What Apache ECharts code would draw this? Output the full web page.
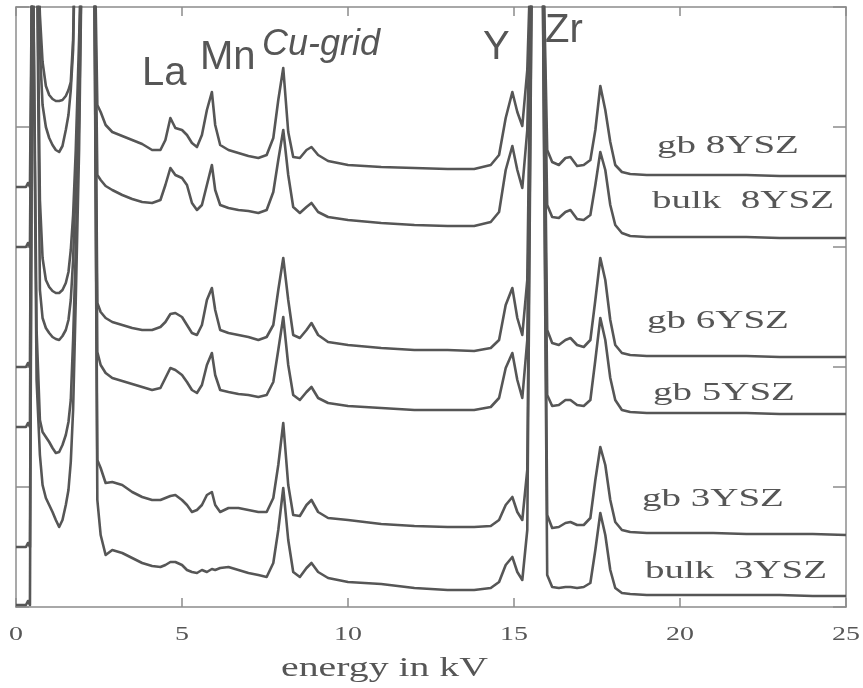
<!DOCTYPE html>
<html>
<head>
<meta charset="utf-8">
<script src="https://cdn.jsdelivr.net/npm/echarts@6/dist/echarts.min.js"></script>
<style>
  html, body { margin: 0; padding: 0; background: #ffffff; }
  #chart { width: 863px; height: 688px; }
</style>
</head>
<body>
<div id="chart"></div>
<script>
// EDX spectra, stacked with vertical offsets (arbitrary counts), energy in kV
const energy = [0, 0.3, 0.36, 0.42, 0.5, 0.62, 0.72, 0.8, 0.9, 1.0, 1.1, 1.2, 1.3, 1.4, 1.5, 1.58, 1.65, 1.72, 1.8, 1.9,
  2.0, 2.25, 2.35, 2.45, 2.55, 2.7, 2.9, 3.2, 3.5, 3.8, 4.1, 4.35, 4.5, 4.65, 4.8, 5.0, 5.15, 5.3, 5.45, 5.6,
  5.75, 5.9, 6.0, 6.15, 6.4, 6.7, 7.0, 7.3, 7.55, 7.75, 7.9, 8.05, 8.2, 8.35, 8.55, 8.75, 8.9, 9.1, 9.4, 10,
  11, 12, 13, 13.8, 14.3, 14.55, 14.75, 14.95, 15.1, 15.25, 15.4, 15.55, 15.85, 16.0, 16.15, 16.35, 16.55, 16.7, 16.9, 17.1,
  17.3, 17.45, 17.6, 17.75, 17.9, 18.05, 18.25, 18.5, 19, 20, 21, 22, 23, 24, 25];

const gb8YSZ = [420, 420, 424, 420, 700, 700, 592, 545, 521, 512, 508, 506, 506, 507, 511, 517, 525, 567, 700, 700,
  700, 700, 700, 502, 495, 482, 475, 471, 467, 463, 457, 457, 467, 489, 479, 477, 472, 464, 460, 472,
  497, 515, 482, 462, 457, 454, 451, 449, 452, 469, 507, 539, 475, 450, 449, 457, 460, 452, 446, 442,
  440, 439, 438, 438, 442, 452, 489, 515, 495, 481, 537, 700, 700, 457, 445, 442, 449, 450, 441, 442,
  447, 477, 521, 497, 465, 442, 435, 433, 432, 432, 432, 432, 431, 431, 431];

const bulk8YSZ = [360, 360, 364, 360, 700, 700, 557, 502, 480, 469, 462, 457, 455, 461, 477, 492, 517, 557, 700, 700,
  700, 700, 700, 432, 427, 421, 417, 412, 408, 405, 404, 407, 422, 439, 432, 429, 422, 404, 397, 402,
  422, 442, 417, 402, 399, 397, 396, 394, 397, 415, 447, 477, 432, 400, 394, 400, 404, 395, 390, 387,
  384, 382, 381, 381, 385, 395, 437, 461, 437, 419, 477, 700, 700, 402, 390, 389, 395, 397, 388, 387,
  392, 422, 455, 437, 402, 382, 374, 371, 370, 370, 370, 370, 369, 369, 369];

const gb6YSZ = [240, 240, 244, 240, 700, 700, 407, 349, 327, 320, 316, 314, 314, 317, 324, 335, 357, 392, 457, 567,
  700, 700, 700, 304, 295, 289, 285, 282, 279, 277, 277, 280, 285, 293, 294, 290, 282, 274, 272, 282,
  307, 319, 297, 277, 274, 272, 270, 267, 270, 282, 317, 349, 307, 272, 269, 277, 284, 272, 265, 262,
  259, 257, 257, 256, 259, 267, 302, 319, 289, 272, 327, 700, 700, 277, 264, 262, 267, 269, 262, 260,
  267, 307, 349, 327, 287, 262, 254, 252, 251, 251, 251, 251, 250, 250, 250];

const gb5YSZ = [180, 180, 184, 180, 700, 700, 317, 289, 279, 274, 270, 268, 267, 271, 277, 287, 307, 347, 427, 537,
  700, 700, 700, 255, 242, 234, 229, 226, 223, 220, 217, 219, 229, 239, 237, 232, 225, 217, 214, 222,
  242, 254, 232, 217, 215, 213, 212, 210, 212, 225, 257, 290, 242, 212, 207, 215, 220, 209, 204, 201,
  199, 197, 197, 197, 200, 209, 239, 254, 227, 209, 267, 700, 700, 212, 201, 202, 207, 207, 202, 201,
  207, 247, 289, 267, 229, 207, 197, 195, 194, 194, 194, 194, 193, 193, 193];

const gb3YSZ = [60, 60, 64, 60, 700, 277, 187, 175, 170, 165, 159, 154, 155, 162, 172, 185, 207, 267, 357, 487,
  700, 700, 700, 147, 139, 124, 125, 122, 115, 110, 107, 107, 109, 111, 112, 107, 102, 95, 97, 102,
  112, 115, 102, 95, 99, 99, 97, 95, 95, 109, 142, 184, 122, 92, 91, 102, 107, 95, 89, 87,
  83, 81, 80, 80, 81, 87, 102, 110, 95, 87, 137, 700, 700, 92, 79, 80, 84, 85, 82, 82,
  89, 127, 160, 142, 107, 85, 77, 75, 74, 74, 74, 73, 73, 73, 72];

const bulk3YSZ = [2, 2, 6, 2, 700, 227, 152, 122, 109, 102, 95, 87, 80, 87, 102, 117, 145, 197, 307, 457,
  700, 700, 700, 107, 72, 52, 57, 54, 49, 44, 41, 40, 42, 45, 45, 42, 37, 35, 34, 37,
  35, 38, 37, 39, 40, 37, 34, 32, 30, 44, 77, 119, 67, 35, 30, 39, 44, 35, 29, 25,
  23, 19, 17, 17, 19, 25, 42, 50, 35, 27, 77, 700, 700, 32, 20, 19, 20, 20, 19, 20,
  24, 57, 94, 72, 37, 19, 14, 13, 12, 12, 12, 12, 12, 11, 11];

const sampleNames = ['gb 8YSZ', 'bulk  8YSZ', 'gb 6YSZ', 'gb 5YSZ', 'gb 3YSZ', 'bulk  3YSZ'];
const spectra = [gb8YSZ, bulk8YSZ, gb6YSZ, gb5YSZ, gb3YSZ, bulk3YSZ];
const xTickValues = [0, 5, 10, 15, 20, 25];
const xTickLabels = ['0', '5', '10', '15', '20', '25'];
const xAxisTitle = 'energy in kV';
const peakNames = ['La', 'Mn', 'Cu-grid', 'Y', 'Zr'];

const INK = '#565656';
const FRAME = '#8c8c8c';

const chart = echarts.init(document.getElementById('chart'), null, { renderer: 'canvas' });

function frameAxis(pos, isX) {
  return {
    type: 'value',
    position: pos,
    min: isX ? 0 : 0,
    max: isX ? 25 : 600,
    interval: isX ? 5 : 120,
    axisLine: { show: true, onZero: false, lineStyle: { color: FRAME, width: 1.5 } },
    axisTick: { show: true, inside: true, length: isX ? 9 : 13, lineStyle: { color: FRAME, width: 1.5 } },
    axisLabel: { show: false },
    splitLine: { show: false }
  };
}

const series = spectra.map((vals, k) => ({
  name: sampleNames[k],
  type: 'line',
  xAxisIndex: 0,
  yAxisIndex: 0,
  data: energy.map((e, i) => [e, vals[i]]),
  showSymbol: false,
  symbol: 'none',
  clip: true,
  lineStyle: { color: INK, width: 2.6, join: 'round' },
  silent: true
}));

chart.setOption({
  animation: false,
  backgroundColor: '#ffffff',
  grid: { left: 16, right: 17, top: 7, bottom: 81, containLabel: false },
  xAxis: [frameAxis('bottom', true), frameAxis('top', true)],
  yAxis: [frameAxis('left', false), frameAxis('right', false)],
  series: series
});

// Serif texts are drawn horizontally widened, like the original lettering
const SERIF = '"Liberation Serif", "Times New Roman", serif';
const SANS = '"Liberation Sans", Arial, sans-serif';

function txt(text, x, y, font, align, sx) {
  return {
    type: 'text',
    x: x, y: y,
    scaleX: sx || 1,
    silent: true,
    style: {
      text: text, font: font, fill: INK,
      textAlign: align, align: align,
      textVerticalAlign: 'middle', verticalAlign: 'middle'
    }
  };
}

const graphics = [];

// tick labels placed through the x axis scale
xTickValues.forEach((v, i) => {
  const px = chart.convertToPixel({ xAxisIndex: 0 }, v);
  graphics.push(txt(xTickLabels[i], px, 635, '19px ' + SERIF, 'center', 1.47));
});
graphics.push(txt(xAxisTitle, chart.convertToPixel({ xAxisIndex: 0 }, 11.1), 669, '28px ' + SERIF, 'center', 1.42));

// sample names beside each spectrum
const nameSpots = [[657, 146], [652, 201], [647, 321], [653, 393], [642, 499], [645, 571]];
sampleNames.forEach((n, i) => {
  graphics.push(txt(n, nameSpots[i][0], nameSpots[i][1], '26px ' + SERIF, 'left', 1.5));
});

// element peak labels
const peakSpots = [[142, 74, '40px '], [200, 58, '40px '], [262, 45, 'italic 36px '], [483, 48, '40px '], [545, 31, '40px ']];
peakNames.forEach((n, i) => {
  graphics.push(txt(n, peakSpots[i][0], peakSpots[i][1], peakSpots[i][2] + SANS, 'left', 1));
});

chart.setOption({ graphic: graphics });
</script>
</body>
</html>
